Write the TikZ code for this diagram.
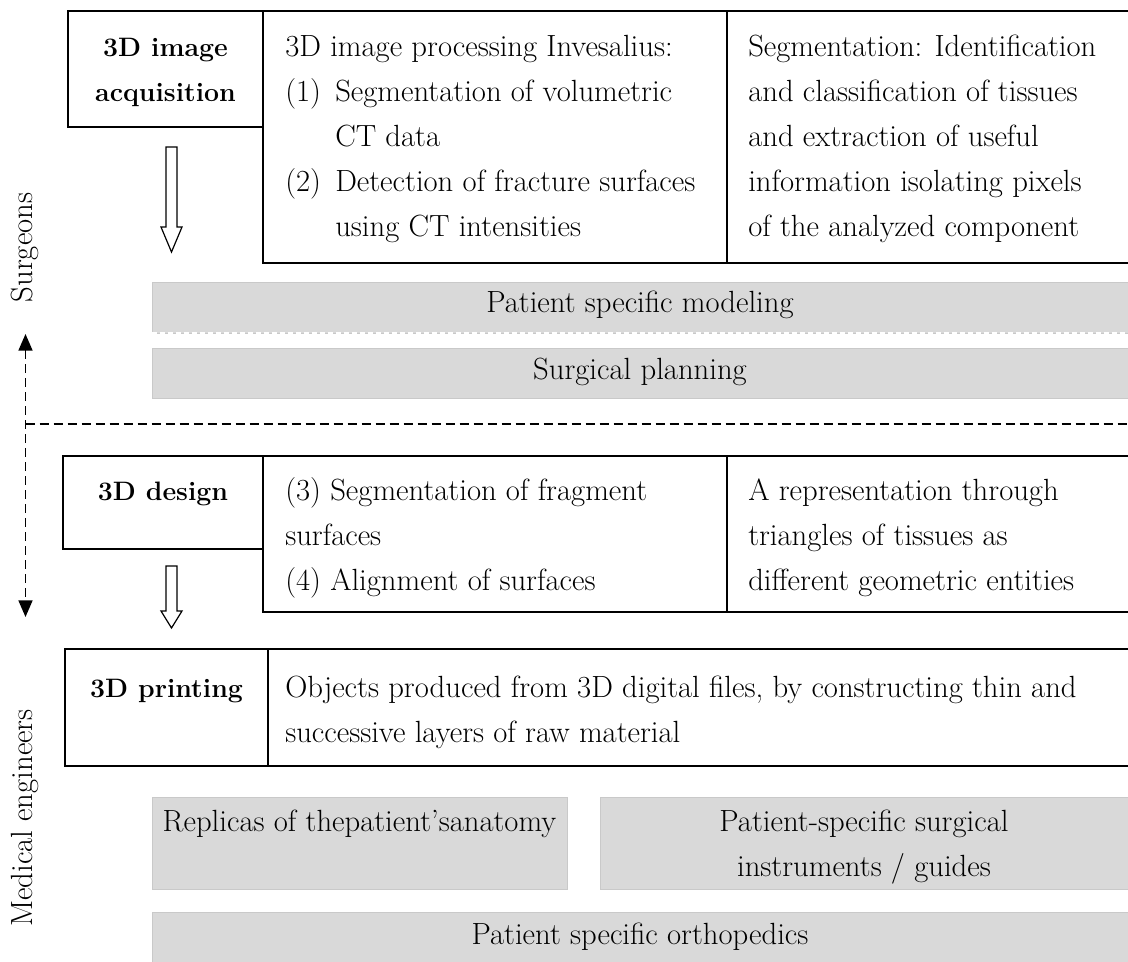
\documentclass[tikz,border=0pt]{standalone}
\usetikzlibrary{arrows.meta}
\begin{document}
\begin{tikzpicture}[x=0.75pt,y=-0.75pt,
  box/.style={draw, line width=1.1pt, anchor=north west, inner sep=0pt, outer sep=0pt},
  gbox/.style={fill=gray!30, draw=gray!42, line width=0.6pt, anchor=north west, inner sep=0pt, outer sep=0pt},
  txt/.style={inner sep=0pt, font=\fontsize{23}{33.75}\selectfont},
  btxt/.style={inner sep=0pt, font=\fontsize{20}{33.75}\selectfont\bfseries},
  hollow/.style={draw, line width=0.9pt, fill=white},
  dashline/.style={line width=1.3pt, dash pattern=on 6.75pt off 3.75pt},
  mytip/.tip={Triangle[length=12.5pt,width=10.5pt]}
]
\useasboundingbox (0,0) rectangle (1128,962);

% top row
\node[box, minimum width=146.25pt, minimum height=87pt] (A1) at (68,11) {};
\node[box, minimum width=348pt, minimum height=189pt] (A2) at (263,11) {};
\node[box, minimum width=303.75pt, minimum height=189pt] (A3) at (727,11) {};
\node[btxt, anchor=base] (A1t) at (165.5,57) {\begin{tabular}[t]{@{}c@{}}3D image\\acquisition\end{tabular}};
\node[txt, anchor=base west] (A2t) at (285,57) {\begin{tabular}[t]{@{}l@{}}3D image processing Invesalius:\\
\makebox[37.5pt][l]{(1)}Segmentation of volumetric\\
\hspace*{37.5pt}CT data\\
\makebox[37.5pt][l]{(2)}Detection of fracture surfaces\\
\hspace*{37.5pt}using CT intensities\end{tabular}};
\node[txt, anchor=base west] (A3t) at (748,57) {\begin{tabular}[t]{@{}l@{}}Segmentation: Identification\\
and classification of tissues\\
and extraction of useful\\
information isolating pixels\\
of the analyzed component\end{tabular}};

% hollow arrow 1
\coordinate (ar1) at (171.5,147);
\draw[hollow] (ar1) ++(-5.5,0) -- ++(11,0) -- ++(0,80) -- ++(5,0) -- ++(-10.5,25) -- ++(-10.5,-25) -- ++(5,0) -- cycle;

% gray boxes (surgeons)
\node[gbox, minimum width=735pt, minimum height=38.25pt] (G1) at (152,282) {};
\draw[white, line width=0.9pt, dash pattern=on 4pt off 2pt] (G1.south west) -- (G1.south east);
\node[txt, anchor=base] (G1t) at (640,313) {Patient specific modeling};
\node[gbox, minimum width=735pt, minimum height=37.5pt] (G2) at (152,348) {};
\node[txt, anchor=base] (G2t) at (640,380) {Surgical planning};

% side labels and dashed lines
\node[txt, rotate=90, anchor=base] (surg) at (32,247.5) {Surgeons};
\node[txt, rotate=90, anchor=base] (meng) at (32,818) {Medical engineers};
\coordinate (vt) at (25.5,334);
\coordinate (vb) at (25.5,617);
\coordinate (hl) at (25.5,424);
\coordinate (hr) at (1130,424);
\draw[dashline, {mytip}-{mytip}] (vt) -- (vb);
\draw[dashline] (hl) -- (hr);

% design row
\node[box, minimum width=150pt, minimum height=69.75pt] (B1) at (63,456) {};
\node[box, minimum width=348pt, minimum height=117pt] (B2) at (263,456) {};
\node[box, minimum width=303.75pt, minimum height=117pt] (B3) at (727,456) {};
\node[btxt, anchor=base] (B1t) at (163,500) {3D design};
\node[txt, anchor=base west] (B2t) at (285,500) {\begin{tabular}[t]{@{}l@{}}(3) Segmentation of fragment\\
surfaces\\
(4) Alignment of surfaces\end{tabular}};
\node[txt, anchor=base west] (B3t) at (748,500) {\begin{tabular}[t]{@{}l@{}}A representation through\\
triangles of tissues as\\
different geometric entities\end{tabular}};

% hollow arrow 2
\coordinate (ar2) at (171.5,566);
\draw[hollow] (ar2) ++(-5.5,0) -- ++(11,0) -- ++(0,45) -- ++(5,0) -- ++(-10.5,17) -- ++(-10.5,-17) -- ++(5,0) -- cycle;

% printing row
\node[box, minimum width=152.25pt, minimum height=87.75pt] (C1) at (65,649) {};
\node[box, minimum width=648pt, minimum height=87.75pt] (C2) at (268,649) {};
\node[btxt, anchor=base] (C1t) at (166.5,697) {3D printing};
\node[txt, anchor=base west] (C2t) at (285,697) {\begin{tabular}[t]{@{}l@{}}Objects produced from 3D digital files, by constructing thin and\\
successive layers of raw material\end{tabular}};

% outputs
\node[gbox, minimum width=311.25pt, minimum height=69pt] (G3) at (152,797) {};
\node[txt, anchor=base] (G3t) at (359.5,831) {Replicas of thepatient'sanatomy};
\node[gbox, minimum width=399pt, minimum height=69pt] (G4) at (600,797) {};
\node[txt, anchor=base] (G4t) at (864,831) {\begin{tabular}[t]{@{}c@{}}Patient-specific surgical\\
instruments / guides\end{tabular}};
\node[gbox, minimum width=735pt, minimum height=45pt] (G5) at (152,912) {};
\node[txt, anchor=base] (G5t) at (640,944) {Patient specific orthopedics};
\end{tikzpicture}
\end{document}
